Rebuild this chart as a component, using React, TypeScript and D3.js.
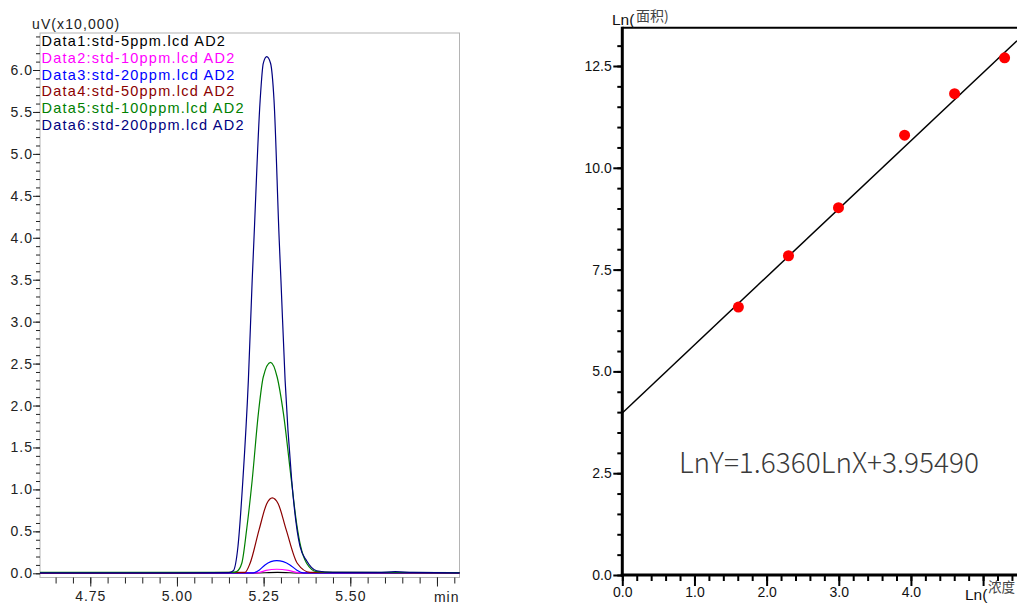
import * as React from 'react';
import * as d3 from 'd3';

// chromatogram traces, [time (min), signal (uV x10,000)]
const legendNames = [
  'Data1:std-5ppm.lcd AD2',
  'Data2:std-10ppm.lcd AD2',
  'Data3:std-20ppm.lcd AD2',
  'Data4:std-50ppm.lcd AD2',
  'Data5:std-100ppm.lcd AD2',
  'Data6:std-200ppm.lcd AD2',
];
const traceColors = ['#000000', '#ff00ff', '#0000ff', '#8b0000', '#008000', '#000080'];

const trace1 = [
  [4.605, 0.002], [5.0, 0.002], [5.22, 0.003], [5.29, 0.01], [5.36, 0.003], [5.815, 0.002],
];
const trace2 = [
  [4.605, 0.003], [5.0, 0.003], [5.23, 0.004], [5.257, 0.035], [5.288, 0.048], [5.322, 0.035],
  [5.355, 0.004], [5.815, 0.003],
];
const trace3 = [
  [4.605, 0.004], [5.0, 0.004], [5.22, 0.006], [5.238, 0.04], [5.254, 0.1], [5.288, 0.15],
  [5.326, 0.1], [5.345, 0.04], [5.364, 0.006], [5.815, 0.004],
];
const trace4 = [
  [4.605, 0.005], [5.0, 0.005], [5.196, 0.01], [5.211, 0.12], [5.237, 0.52], [5.259, 0.83],
  [5.275, 0.9], [5.292, 0.83], [5.315, 0.52], [5.347, 0.12], [5.384, 0.012], [5.815, 0.005],
];
const trace5 = [
  [4.605, 0.012], [5.0, 0.01], [5.16, 0.01], [5.172, 0.02], [5.187, 0.12], [5.201, 0.52],
  [5.217, 1.11], [5.235, 1.91], [5.249, 2.34], [5.27, 2.515], [5.289, 2.34], [5.307, 1.91],
  [5.33, 1.11], [5.345, 0.6], [5.357, 0.32], [5.374, 0.12], [5.403, 0.02], [5.45, 0.01],
  [5.815, 0.008],
];
const trace6 = [
  [4.605, 0.005], [5.0, 0.005], [5.15, 0.008], [5.1625, 0.03], [5.176, 0.32], [5.19, 1.1],
  [5.206, 2.3], [5.217, 3.49], [5.222, 3.97], [5.24, 5.64], [5.249, 6.08], [5.259, 6.16],
  [5.27, 6.08], [5.28, 5.64], [5.295, 3.97], [5.3, 3.49], [5.312, 2.3], [5.331, 1.11],
  [5.355, 0.32], [5.374, 0.15], [5.403, 0.03], [5.45, 0.01], [5.58, 0.01], [5.63, 0.02],
  [5.68, 0.01], [5.815, 0.005],
];
const traces = [trace1, trace2, trace3, trace4, trace5, trace6];
const timeTicks = [4.75, 5.0, 5.25, 5.5, 5.75];

// calibration curve
const lnConc = [1.609, 2.303, 2.996, 3.912, 4.605, 5.298];
const lnArea = [6.58, 7.84, 9.02, 10.8, 11.82, 12.7];
// fitted line as drawn in the picture (ends of the line)
const fitX = [0, 5.47];
const fitY = [3.98, 13.12];
const equation = 'LnY=1.6360LnX+3.95490';

const sans = '"Liberation Sans", Arial, sans-serif';
const cjk = '"Noto Sans CJK SC", "Noto Sans", sans-serif';

export default function App() {
  const nodeRef = React.useRef<SVGSVGElement>(null);

  React.useEffect(() => {
    const svg = d3.select(nodeRef.current);
    svg.selectAll('*').remove();

    // ---------- left: chromatogram ----------
    const left = 40, right = 459.5, top = 33, bottom = 577.5;
    const x = d3.scaleLinear().domain([4.605, 5.815]).range([left, right]);
    const y = d3.scaleLinear().domain([0, 6]).range([573.3, 70]);

    const g = svg.append('g');

    // frame
    g.append('rect')
      .attr('x', left).attr('y', top)
      .attr('width', right - left).attr('height', bottom - top)
      .attr('fill', 'none').attr('stroke', '#b4b4b4').attr('stroke-width', 1);

    // y axis
    const yMinor = d3.range(0, 64.5, 1).map(d => d / 10);
    const yMajor = d3.range(0, 12.5, 1).map(d => d / 2);
    const yAxisMinor = g.append('g').attr('transform', `translate(${left},0)`)
      .call(d3.axisLeft(y).tickValues(yMinor).tickSize(4).tickFormat(() => ''));
    const yAxisMajor = g.append('g').attr('transform', `translate(${left},0)`)
      .call(d3.axisLeft(y).tickValues(yMajor).tickSize(7).tickPadding(0).tickFormat(d3.format('.1f')));

    // x axis
    const xMinor = d3.range(93, 117, 1).map(d => d / 20);
    const xAxisMinor = g.append('g').attr('transform', `translate(0,${bottom})`)
      .call(d3.axisBottom(x).tickValues(xMinor).tickSize(6).tickFormat(() => ''));
    const xAxisMajor = g.append('g').attr('transform', `translate(0,${bottom})`)
      .call(d3.axisBottom(x).tickValues(timeTicks).tickSize(9).tickPadding(5)
        .tickFormat(d => (+d === 5.75 ? '' : d3.format('.2f')(+d))));

    [yAxisMinor, yAxisMajor, xAxisMinor, xAxisMajor].forEach(a => {
      a.select('.domain').remove();
      a.selectAll('line').attr('stroke', '#222');
      a.selectAll('text')
        .attr('fill', '#222')
        .style('font-family', sans)
        .style('font-size', '14px')
        .style('letter-spacing', '1px');
    });

    g.append('text')
      .attr('x', right).attr('y', 602)
      .attr('text-anchor', 'end')
      .style('font-family', sans).style('font-size', '14px').style('letter-spacing', '1px')
      .attr('fill', '#222')
      .text('min');

    g.append('text')
      .attr('x', 32).attr('y', 28.5)
      .style('font-family', sans).style('font-size', '14px').style('letter-spacing', '1.1px')
      .attr('fill', '#222')
      .text('uV(x10,000)');

    const line = d3.line<number[]>()
      .x(d => x(d[0]))
      .y(d => y(d[1]))
      .curve(d3.curveMonotoneX);

    traces.forEach((t, i) => {
      g.append('path')
        .datum(t)
        .attr('fill', 'none')
        .attr('stroke', traceColors[i])
        .attr('stroke-width', 1.2)
        .attr('d', line);
    });

    legendNames.forEach((name, i) => {
      g.append('text')
        .attr('x', 41.5).attr('y', 46 + i * 16.8)
        .style('font-family', sans).style('font-size', '14.5px').style('letter-spacing', '1.25px')
        .attr('fill', traceColors[i])
        .text(name);
    });

    // ---------- right: calibration ----------
    const rLeft = 622.3, rRight = 1017, rTop = 27.7, rBottom = 575;
    const xr = d3.scaleLinear().domain([0, 5.47]).range([rLeft, rRight]);
    const yr = d3.scaleLinear().domain([0, 12.5]).range([rBottom, 66]);

    const h = svg.append('g');

    const ryMinor = d3.range(0, 27, 1).map(d => d / 2);
    const ryMajor = d3.range(0, 6, 1).map(d => d * 2.5);
    const rxMinor = d3.range(0, 28, 1).map(d => d / 5);
    const rxMajor = d3.range(0, 6, 1);

    const a1 = h.append('g').attr('transform', `translate(${rLeft},0)`)
      .call(d3.axisLeft(yr).tickValues(ryMinor).tickSize(5).tickFormat(() => ''));
    const a2 = h.append('g').attr('transform', `translate(${rLeft},0)`)
      .call(d3.axisLeft(yr).tickValues(ryMajor).tickSize(9).tickPadding(1.5).tickFormat(d3.format('.1f')));
    const a3 = h.append('g').attr('transform', `translate(0,${rBottom})`)
      .call(d3.axisBottom(xr).tickValues(rxMinor).tickSize(6).tickFormat(() => ''));
    const a4 = h.append('g').attr('transform', `translate(0,${rBottom})`)
      .call(d3.axisBottom(xr).tickValues(rxMajor).tickSize(11).tickPadding(1)
        .tickFormat(d => (+d >= 5 ? '' : d3.format('.1f')(+d))));

    [a1, a2, a3, a4].forEach(a => {
      a.select('.domain').remove();
      a.selectAll('line').attr('stroke', '#000').attr('stroke-width', 2);
      a.selectAll('text')
        .attr('fill', '#111')
        .style('font-family', sans)
        .style('font-size', '14px');
    });

    // axis lines
    h.append('line')
      .attr('x1', rLeft).attr('x2', rRight).attr('y1', rTop).attr('y2', rTop)
      .attr('stroke', '#000').attr('stroke-width', 2);
    h.append('line')
      .attr('x1', rLeft).attr('x2', rLeft).attr('y1', rTop - 1).attr('y2', rBottom + 1.5)
      .attr('stroke', '#000').attr('stroke-width', 3);
    h.append('line')
      .attr('x1', rLeft - 1.5).attr('x2', rRight).attr('y1', rBottom).attr('y2', rBottom)
      .attr('stroke', '#000').attr('stroke-width', 3);

    // fit line
    h.append('path')
      .datum(fitX.map((d, i) => [d, fitY[i]]))
      .attr('fill', 'none')
      .attr('stroke', '#000')
      .attr('stroke-width', 1.5)
      .attr('d', d3.line<number[]>().x(d => xr(d[0])).y(d => yr(d[1])));

    h.selectAll('circle.pt')
      .data(lnConc)
      .enter()
      .append('circle')
      .attr('class', 'pt')
      .attr('cx', d => xr(d))
      .attr('cy', (d, i) => yr(lnArea[i]))
      .attr('r', 5.5)
      .attr('fill', '#ff0000');

    h.append('text')
      .attr('x', 679).attr('y', 473)
      .style('font-family', cjk).style('font-size', '28px').style('font-weight', 300)
      .attr('fill', '#3a3a3a')
      .text(equation);

    // axis titles
    h.append('text')
      .attr('x', 612).attr('y', 25)
      .style('font-family', sans).style('font-size', '15.5px')
      .attr('fill', '#111')
      .text('Ln(');
    h.append('text')
      .attr('x', 636).attr('y', 21)
      .style('font-family', cjk).style('font-size', '14px')
      .attr('fill', '#444')
      .text('面积)');
    h.append('text')
      .attr('x', 965).attr('y', 600)
      .style('font-family', sans).style('font-size', '15.5px')
      .attr('fill', '#111')
      .text('Ln(');
    h.append('text')
      .attr('x', 988).attr('y', 592)
      .style('font-family', cjk).style('font-size', '13.5px')
      .attr('fill', '#444')
      .text('浓度');
  }, []);

  return (
    <svg
      ref={nodeRef}
      width={1017}
      height={605}
      style={{ position: 'absolute', left: 0, top: 0, background: '#fff' }}
    />
  );
}
